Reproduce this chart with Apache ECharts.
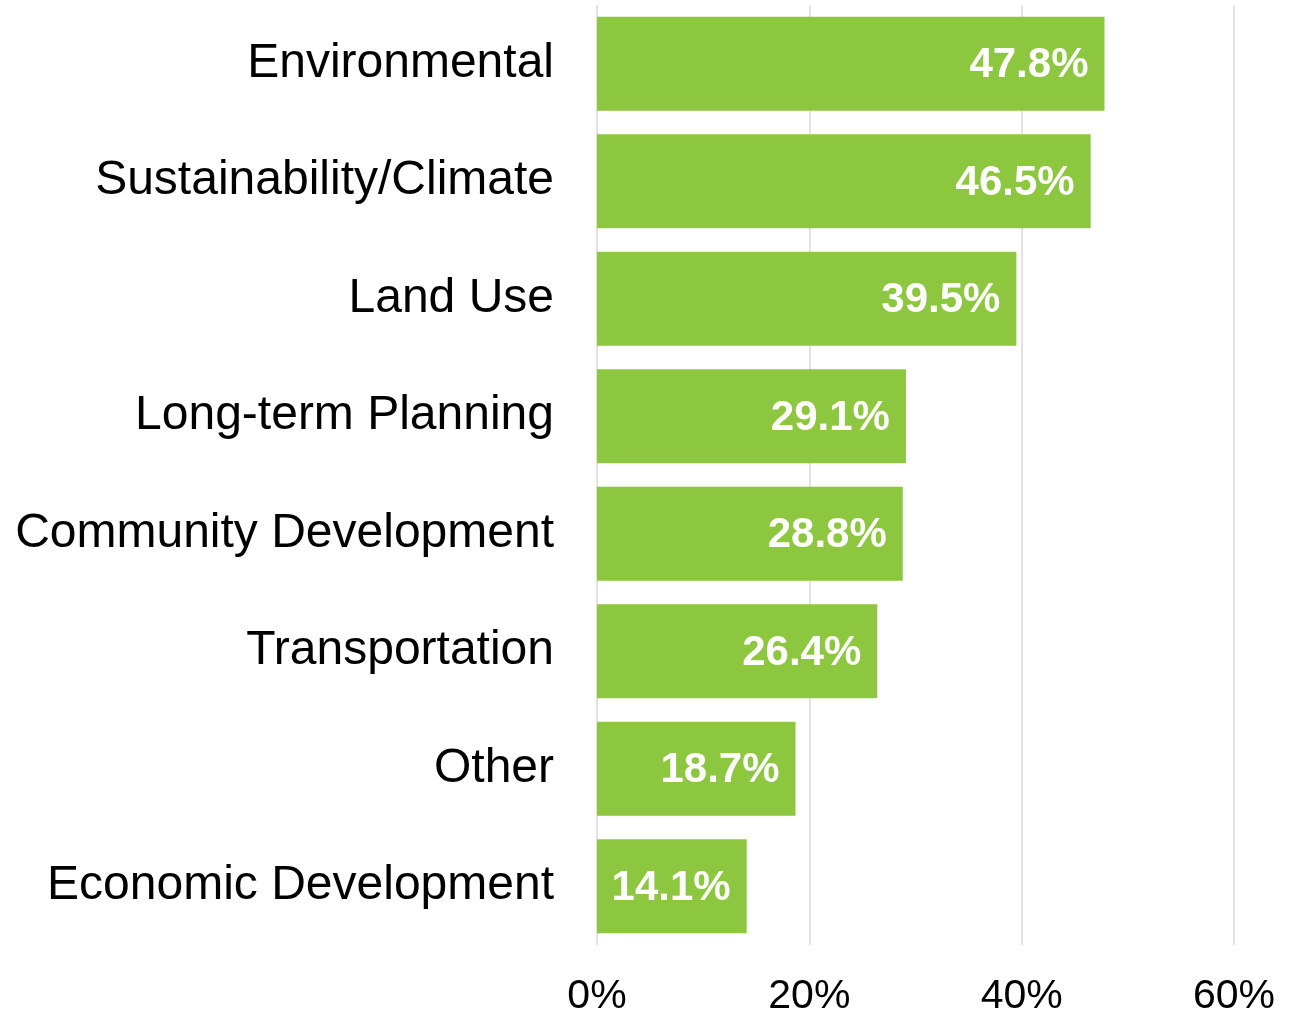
<!DOCTYPE html>
<html>
<head>
<meta charset="utf-8">
<script src="https://cdn.jsdelivr.net/npm/echarts@6/dist/echarts.min.js"></script>
<style>
  html, body { margin: 0; padding: 0; background: #ffffff; }
  #chart { width: 1299px; height: 1016px; }
</style>
</head>
<body>
<div id="chart"></div>
<script>
  // categories top to bottom
  var categories = [
    'Environmental',
    'Sustainability/Climate',
    'Land Use',
    'Long-term Planning',
    'Community Development',
    'Transportation',
    'Other',
    'Economic Development'
  ];
  var shares = [47.8, 46.5, 39.5, 29.1, 28.8, 26.4, 18.7, 14.1];
  var tickValues = [0, 20, 40, 60];

  var font = "'Liberation Sans', Arial, sans-serif";
  var chart = echarts.init(document.getElementById('chart'));

  chart.setOption({
    backgroundColor: '#ffffff',
    animation: false,
    grid: {
      left: 597,
      right: 65,
      top: 5,
      bottom: 71,
      outerBoundsMode: 'none'
    },
    xAxis: {
      type: 'value',
      min: tickValues[0],
      max: tickValues[tickValues.length - 1],
      interval: 20,
      axisLine: { show: false },
      axisTick: { show: false },
      axisLabel: {
        color: '#000000',
        fontFamily: font,
        fontSize: 41,
        margin: 31,
        formatter: function (v) { return v + '%'; }
      },
      splitLine: {
        show: true,
        lineStyle: { color: '#d9d9d9', width: 1.5 }
      }
    },
    yAxis: {
      type: 'category',
      data: categories,
      inverse: true,
      axisLine: { show: false },
      axisTick: { show: false },
      axisLabel: {
        color: '#000000',
        fontFamily: font,
        fontSize: 48,
        margin: 43
      }
    },
    series: [
      {
        type: 'bar',
        data: shares,
        barCategoryGap: '20%',
        itemStyle: { color: '#8dc63f' },
        label: {
          show: true,
          position: 'insideRight',
          distance: 16,
          offset: [0, 2],
          color: '#ffffff',
          fontFamily: font,
          fontWeight: 'bold',
          fontSize: 42,
          formatter: function (p) { return p.value.toFixed(1) + '%'; }
        }
      }
    ]
  });
</script>
</body>
</html>
